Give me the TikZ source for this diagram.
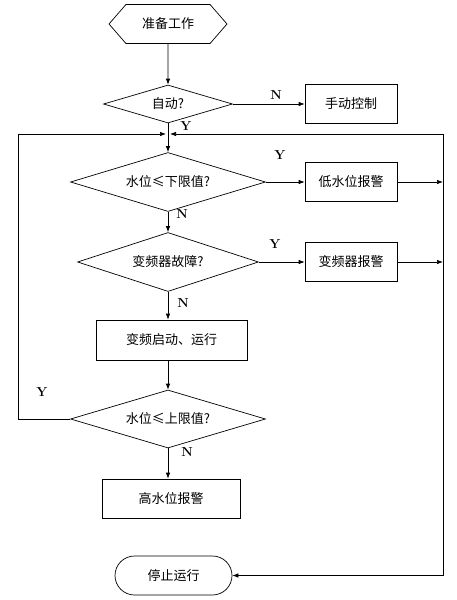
\documentclass[tikz,border=0pt]{standalone}
\usepackage{fontspec}
\newfontfamily\cjk{Noto Sans CJK SC}
\usetikzlibrary{shapes.geometric,shapes.misc,shapes.symbols,arrows.meta}

\begin{document}
\begin{tikzpicture}[x=1pt,y=-1pt,line width=0.7pt,>={Latex[length=6pt,width=4.5pt]},
  every node/.style={font=\cjk\fontsize{13}{15}\selectfont},
  hexa/.style={draw,signal,signal to=west and east,signal pointer angle=98,minimum width=118pt,minimum height=39pt,inner sep=0pt},
  cond/.style={draw,diamond,aspect=3,inner sep=0pt},
  box/.style={draw,rectangle,inner sep=0pt,minimum width=92pt,minimum height=39pt},
  term/.style={draw,rounded rectangle,minimum width=117pt,minimum height=39pt,inner sep=0pt},
  yn/.style={font=\fontsize{13}{13}\bfseries\selectfont,inner sep=0pt}]

\useasboundingbox (0,0) rectangle (456,600);

\node[hexa] (prep) at (168,24) {准备工作};
\node[cond,minimum width=129pt,minimum height=38pt] (auto) at (168,104) {自动?};
\node[box] (manual) at (351,104) {手动控制};
\node[cond,minimum width=195pt,minimum height=59pt] (low) at (168,182) {水位≤下限值?};
\node[box] (lowalarm) at (351,182) {低水位报警};
\node[cond,minimum width=181pt,minimum height=59pt] (fault) at (168,262) {变频器故障?};
\node[box] (faultalarm) at (351,262) {变频器报警};
\node[box,minimum width=151pt,minimum height=40pt] (run) at (171.5,340) {变频启动、运行};
\node[cond,minimum width=195pt,minimum height=58pt] (high) at (168,419) {水位≤上限值?};
\node[box,minimum width=138pt] (highalarm) at (171,498.5) {高水位报警};
\node[term] (stop) at (173.5,575.5) {停止运行};

\coordinate (j) at (168,134);
\coordinate (lt) at (18,134);
\coordinate (rt) at (443,134);
\coordinate (rb) at (443,575.5);

\draw[->] (prep) -- (auto);
\draw[->] (auto) -- (manual);
\draw (auto) -- (j);
\draw[->] (j) -- (low);
\draw[->] (low) -- (lowalarm);
\draw[->] (low) -- (fault);
\draw[->] (fault) -- (faultalarm);
\draw[->] (fault.south) -- (fault.south |- run.north);
\draw[->] (high.north |- run.south) -- (high);
\draw[->] (high) -- (high |- highalarm.north);
\draw[->] (lowalarm) -- (lowalarm -| rt);
\draw[->] (faultalarm) -- (faultalarm -| rt);
\draw[->,shorten >=2pt] (high) -| (lt) -- (j);
\draw[->,shorten >=2pt] (rb) -- (rt) -- (j);
\draw[->] (rb) -- (stop);

\node[yn] (nA) at (276,95) {N};
\node[yn] (yA) at (186,126) {Y};
\node[yn] (yB) at (280,155) {Y};
\node[yn] (nB) at (182,214) {N};
\node[yn] (yC) at (275,244) {Y};
\node[yn] (nC) at (183,303) {N};
\node[yn] (yD) at (42,392) {Y};
\node[yn] (nD) at (187,452) {N};

\end{tikzpicture}
\end{document}
